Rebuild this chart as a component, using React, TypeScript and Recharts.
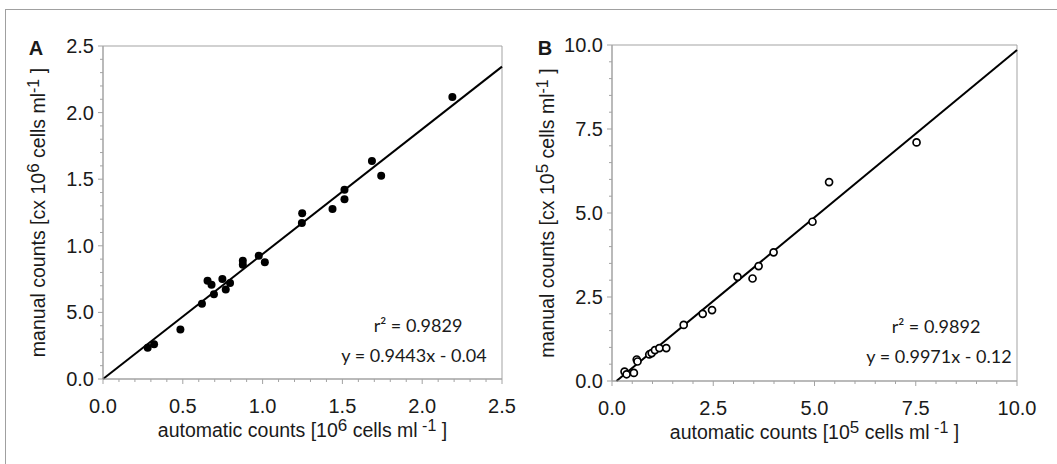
import React from "react";
import { ScatterChart, Scatter, XAxis, YAxis, ReferenceLine, ReferenceArea, Label } from "recharts";

// panel A: 10^6 cells/ml
const aAuto = [0.28, 0.32, 0.485, 0.62, 0.655, 0.68, 0.695, 0.748, 0.769, 0.796, 0.876, 0.876, 0.976, 1.014, 1.248, 1.246, 1.438, 1.513, 1.513, 1.685, 1.743, 2.189];
const aManual = [0.235, 0.26, 0.372, 0.565, 0.737, 0.707, 0.637, 0.75, 0.672, 0.72, 0.887, 0.857, 0.925, 0.877, 1.245, 1.172, 1.277, 1.42, 1.35, 1.637, 1.525, 2.117];
const aFit = [[0, 0], [2.5, 2.345]];
const aXLabels = ["0.0", "0.5", "1.0", "1.5", "2.0", "2.5"];
const aYLabels = ["0.0", "5.0", "1.0", "1.5", "2.0", "2.5"];

// panel B: 10^5 cells/ml
const bAuto = [0.31, 0.36, 0.54, 0.61, 0.63, 0.92, 0.98, 1.06, 1.17, 1.34, 1.77, 2.24, 2.47, 3.1, 3.47, 3.62, 3.99, 4.95, 5.36, 7.52];
const bManual = [0.28, 0.2, 0.24, 0.64, 0.58, 0.79, 0.83, 0.92, 0.98, 0.98, 1.67, 2.0, 2.11, 3.1, 3.05, 3.42, 3.83, 4.74, 5.92, 7.1];
const bFit = [[0.11, 0], [10, 9.85]];
const bLabels = ["0.0", "2.5", "5.0", "7.5", "10.0"];

const AXIS = "#a3a3a3";
const TXT = "#1a1a1a";
const SANS = "'Liberation Sans', Arial, sans-serif";
const NOTE = "Lato, 'Open Sans', sans-serif";

const ptsA = aAuto.map((x, i) => ({ x, y: aManual[i] }));
const ptsB = bAuto.map((x, i) => ({ x, y: bManual[i] }));

function minorTicks(max: number, step: number) {
  const n = Math.round(max / step);
  return Array.from({ length: n + 1 }, (_, i) => Math.round(i * step * 1000) / 1000);
}

function makeTick(dir: "x" | "y", major: number, labels: string[]) {
  return (props: any) => {
    const { x, y, payload } = props;
    const v = payload.value;
    const k = v / major;
    const isMajor = Math.abs(k - Math.round(k)) < 1e-6;
    const len = isMajor ? 5 : 3;
    if (dir === "x") {
      return (
        <g>
          <line x1={x} y1={y} x2={x} y2={y + len} stroke={AXIS} />
          {isMajor && (
            <text x={x} y={y + 34} textAnchor="middle" fontSize={20} fontFamily={SANS} fill={TXT}>
              {labels[Math.round(k)]}
            </text>
          )}
        </g>
      );
    }
    return (
      <g>
        <line x1={x - len} y1={y} x2={x} y2={y} stroke={AXIS} />
        {isMajor && (
          <text x={x - 9} y={y + 7} textAnchor="end" fontSize={20} fontFamily={SANS} fill={TXT}>
            {labels[Math.round(k)]}
          </text>
        )}
      </g>
    );
  };
}

function title(pre: string, exp: string, rotate: boolean, cx: number, cy: number) {
  return (
    <text
      x={cx}
      y={cy}
      textAnchor="middle"
      fontSize={19.5}
      fontFamily={SANS}
      fill={TXT}
      transform={rotate ? `rotate(-90, ${cx}, ${cy})` : undefined}
    >
      <tspan>{pre}</tspan>
      <tspan dy={-6} fontSize={17}>{exp}</tspan>
      <tspan dy={6}> cells ml</tspan>
      <tspan dy={-6} fontSize={16}>{rotate ? "-1" : " -1"}</tspan>
      <tspan dy={6}> ]</tspan>
    </text>
  );
}

const dot = (props: any) => <circle cx={props.cx} cy={props.cy} r={4} fill="#000" />;
const ring = (props: any) => (
  <circle cx={props.cx} cy={props.cy} r={3.5} fill="#fff" stroke="#000" strokeWidth={1.7} />
);

function Panel(p: {
  width: number;
  margin: any;
  yWidth: number;
  max: number;
  major: number;
  minor: number;
  xLabels: string[];
  yLabels: string[];
  data: { x: number; y: number }[];
  fit: number[][];
  shape: any;
  letter: string;
  letterX: number;
  exp: string;
  yTitleX: number;
  notes: { text: string; x: number; y: number }[];
}) {
  const ticks = minorTicks(p.max, p.minor);
  return (
    <ScatterChart width={p.width} height={464} margin={p.margin}>
      <XAxis
        type="number"
        dataKey="x"
        domain={[0, p.max]}
        ticks={ticks}
        interval={0}
        tickSize={0}
        tickMargin={0}
        height={60}
        stroke={AXIS}
        tick={makeTick("x", p.major, p.xLabels)}
      >
        <Label
          content={(lp: any) => {
            const vb = lp.viewBox;
            return title("automatic counts [10", p.exp, false, vb.x + vb.width / 2, vb.y + 58);
          }}
        />
      </XAxis>
      <YAxis
        type="number"
        dataKey="y"
        domain={[0, p.max]}
        ticks={ticks}
        interval={0}
        tickSize={0}
        tickMargin={0}
        width={p.yWidth}
        stroke={AXIS}
        tick={makeTick("y", p.major, p.yLabels)}
      >
        <Label
          content={(lp: any) => {
            const vb = lp.viewBox;
            return title("manual counts [cx 10", p.exp, true, vb.x + p.yTitleX, vb.y + vb.height / 2);
          }}
        />
      </YAxis>
      <ReferenceArea x1={0} x2={p.max} y1={0} y2={p.max} fill="none" stroke={AXIS} strokeWidth={1} />
      <ReferenceLine
        segment={[
          { x: p.fit[0][0], y: p.fit[0][1] },
          { x: p.fit[1][0], y: p.fit[1][1] },
        ]}
        stroke="#000"
        strokeWidth={2}
      />
      <Scatter data={p.data} shape={p.shape} isAnimationActive={false} />
      <text x={p.letterX} y={55} textAnchor="middle" fontSize={20} fontWeight="bold" fontFamily={SANS} fill={TXT}>
        {p.letter}
      </text>
      {p.notes.map((n, i) => (
        <text key={i} x={n.x} y={n.y} textAnchor="middle" fontSize={18} fontFamily={NOTE} fill={TXT}>
          {n.text}
        </text>
      ))}
    </ScatterChart>
  );
}

export default function App() {
  return (
    <div style={{ position: "relative", width: 1057, height: 464, background: "#fff", overflow: "hidden" }}>
      <style>{`body{margin:0}`}</style>
      <div
        style={{
          position: "absolute",
          left: 5,
          top: 9,
          right: -2,
          bottom: -2,
          borderLeft: "1px solid #a0a0a0",
          borderTop: "1px solid #a0a0a0",
        }}
      />
      <div style={{ position: "absolute", left: 0, top: 0 }}>
        <Panel
          width={530}
          margin={{ top: 46, right: 28, bottom: 25, left: 0 }}
          yWidth={103}
          max={2.5}
          major={0.5}
          minor={0.1}
          xLabels={aXLabels}
          yLabels={aYLabels}
          data={ptsA}
          fit={aFit}
          shape={dot}
          letter="A"
          letterX={36}
          exp="6"
          yTitleX={45}
          notes={[
            { text: "r² = 0.9829", x: 418, y: 332 },
            { text: "y = 0.9443x - 0.04", x: 414, y: 362 },
          ]}
        />
      </div>
      <div style={{ position: "absolute", left: 530, top: 0 }}>
        <Panel
          width={527}
          margin={{ top: 45, right: 40, bottom: 23, left: 0 }}
          yWidth={82}
          max={10}
          major={2.5}
          minor={0.5}
          xLabels={bLabels}
          yLabels={bLabels}
          data={ptsB}
          fit={bFit}
          shape={ring}
          letter="B"
          letterX={15}
          exp="5"
          yTitleX={24}
          notes={[
            { text: "r² = 0.9892", x: 406, y: 333 },
            { text: "y = 0.9971x - 0.12", x: 409, y: 363 },
          ]}
        />
      </div>
    </div>
  );
}
